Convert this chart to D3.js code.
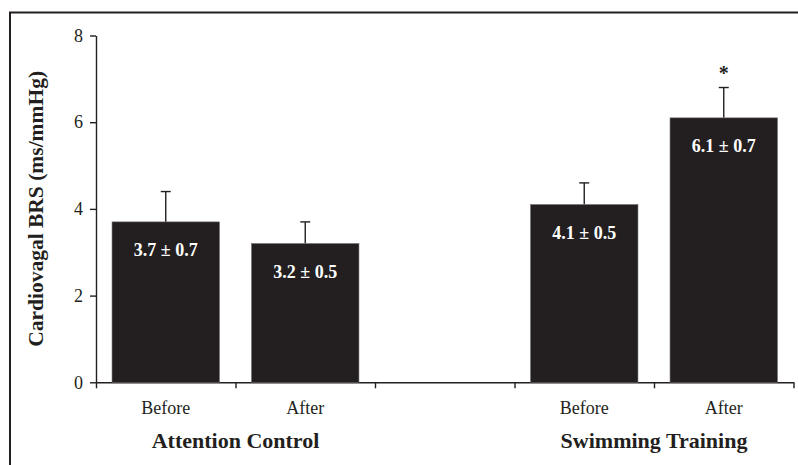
<!DOCTYPE html>
<html>
<head>
<meta charset="utf-8">
<script src="https://cdn.jsdelivr.net/npm/d3@7"></script>
<style>
  body { margin: 0; background: #fff; }
  svg { display: block; font-family: "Liberation Serif", "Times New Roman", serif; }
</style>
</head>
<body>
<div id="chart"></div>
<script>
// slots along the x axis (the empty one is the gap between the two groups)
const slots = ['acBefore', 'acAfter', 'gap', 'stBefore', 'stAfter'];
const phases = ['Before', 'After', '', 'Before', 'After'];
const groups = ['Attention Control', 'Swimming Training'];
const means = [3.7, 3.2, null, 4.1, 6.1];
const sems = [0.7, 0.5, null, 0.5, 0.7];
const significant = [false, false, false, false, true];
const yTicks = [0, 2, 4, 6, 8];

const width = 798;
const height = 465;
const ink = '#231f20';

const svg = d3.select('#chart').append('svg')
  .attr('width', width)
  .attr('height', height);

// outer frame (runs off the right and bottom of the picture)
svg.append('rect')
  .attr('x', 10).attr('y', 12.5)
  .attr('width', 820).attr('height', 480)
  .attr('fill', 'none')
  .attr('stroke', ink)
  .attr('stroke-width', 2);

const x = d3.scaleBand().domain(slots).range([96, 793.5]).padding(0);
const xTicks = d3.scaleLinear().domain([0, slots.length]).range([96, 793.5]);
const y = d3.scaleLinear().domain([0, 8]).range([382.3, 35.5]);

const barW = x.bandwidth() * 0.77;

// y axis
const yAxis = svg.append('g')
  .attr('transform', 'translate(96,0)')
  .call(d3.axisLeft(y).tickValues(yTicks).tickSize(6).tickPadding(7).tickSizeOuter(0));
yAxis.select('.domain').attr('stroke', ink).attr('stroke-width', 1.4);
yAxis.selectAll('.tick line').attr('stroke', ink).attr('stroke-width', 1.4);
yAxis.selectAll('.tick text')
  .attr('fill', ink)
  .style('font-family', '"Liberation Serif", serif')
  .style('font-size', '18px');

// x axis: ticks between the slots
const xAxis = svg.append('g')
  .attr('transform', `translate(0,${y(0)})`)
  .call(d3.axisBottom(xTicks).tickValues(d3.range(slots.length + 1)).tickSize(6).tickFormat('').tickSizeOuter(0));
xAxis.select('.domain').attr('stroke', ink).attr('stroke-width', 1.4);
xAxis.selectAll('.tick line').attr('stroke', ink).attr('stroke-width', 1.4);

const data = slots.map((s, i) => ({
  slot: s, phase: phases[i], mean: means[i], sem: sems[i], sig: significant[i]
})).filter(d => d.mean !== null);

// error bars (upper half only)
const err = svg.append('g');
err.selectAll('line.stem')
  .data(data)
  .join('line')
  .attr('class', 'stem')
  .attr('x1', d => x(d.slot) + x.bandwidth() / 2)
  .attr('x2', d => x(d.slot) + x.bandwidth() / 2)
  .attr('y1', d => y(d.mean))
  .attr('y2', d => y(d.mean + d.sem))
  .attr('stroke', ink)
  .attr('stroke-width', 1.4);
err.selectAll('line.cap')
  .data(data)
  .join('line')
  .attr('class', 'cap')
  .attr('x1', d => x(d.slot) + x.bandwidth() / 2 - 5)
  .attr('x2', d => x(d.slot) + x.bandwidth() / 2 + 5)
  .attr('y1', d => y(d.mean + d.sem))
  .attr('y2', d => y(d.mean + d.sem))
  .attr('stroke', ink)
  .attr('stroke-width', 1.4);

// bars
svg.append('g').selectAll('rect')
  .data(data)
  .join('rect')
  .attr('x', d => x(d.slot) + (x.bandwidth() - barW) / 2)
  .attr('y', d => y(d.mean))
  .attr('width', barW)
  .attr('height', d => y(0) - y(d.mean))
  .attr('fill', ink)
  .attr('stroke', '#6d6a6b')
  .attr('stroke-width', 0.6);

// value labels inside bars
svg.append('g').selectAll('text')
  .data(data)
  .join('text')
  .attr('x', d => x(d.slot) + x.bandwidth() / 2)
  .attr('y', d => y(d.mean) + 34)
  .attr('text-anchor', 'middle')
  .attr('fill', '#fff')
  .style('font-size', '18px')
  .style('font-weight', 'bold')
  .text(d => `${d.mean.toFixed(1)} ± ${d.sem.toFixed(1)}`);

// significance marker
svg.append('g').selectAll('text')
  .data(data.filter(d => d.sig))
  .join('text')
  .attr('x', d => x(d.slot) + x.bandwidth() / 2)
  .attr('y', d => y(d.mean + d.sem) - 8)
  .attr('text-anchor', 'middle')
  .attr('fill', ink)
  .style('font-size', '20px')
  .style('font-weight', 'bold')
  .text('*');

// phase labels
svg.append('g').selectAll('text')
  .data(data)
  .join('text')
  .attr('x', d => x(d.slot) + x.bandwidth() / 2)
  .attr('y', 414)
  .attr('text-anchor', 'middle')
  .attr('fill', ink)
  .style('font-size', '18px')
  .text(d => d.phase);

// group labels, centred on the tick between Before and After
const groupCentres = [xTicks(1), xTicks(4)];
svg.append('g').selectAll('text')
  .data(groups)
  .join('text')
  .attr('x', (d, i) => groupCentres[i])
  .attr('y', 448)
  .attr('text-anchor', 'middle')
  .attr('fill', ink)
  .style('font-size', '22px')
  .style('font-weight', 'bold')
  .text(d => d);

// y axis title
svg.append('text')
  .attr('transform', `translate(43,${(y(0) + y(8)) / 2}) rotate(-90)`)
  .attr('text-anchor', 'middle')
  .attr('fill', ink)
  .style('font-size', '21.5px')
  .style('font-weight', 'bold')
  .text('Cardiovagal BRS (ms/mmHg)');
</script>
</body>
</html>
